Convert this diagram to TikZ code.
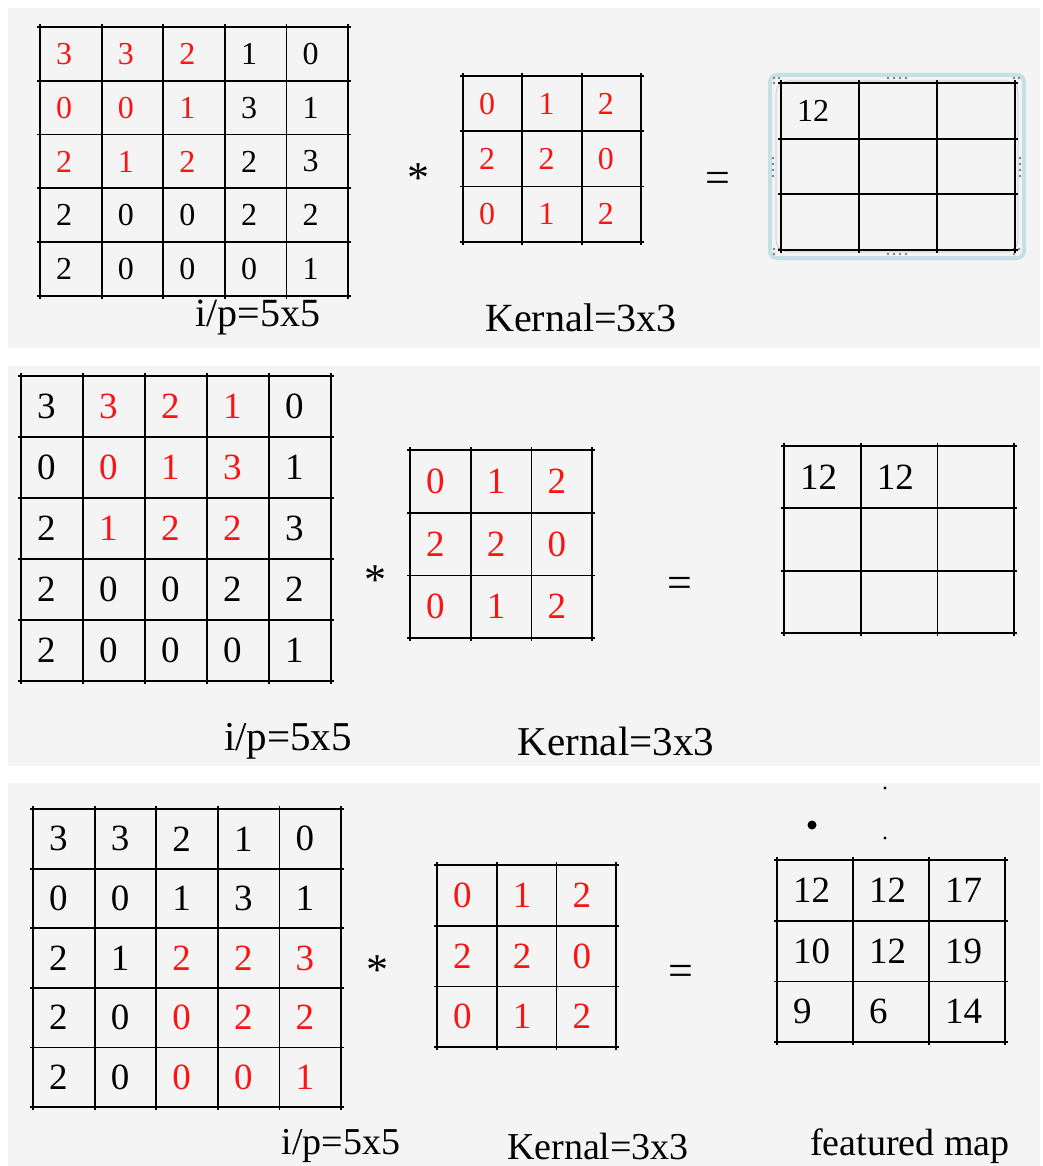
\documentclass[tikz,border=0pt]{standalone}
\usepackage{fontspec}
\setmainfont{Liberation Serif}
\definecolor{panelgray}{RGB}{244,244,244}
\definecolor{numred}{RGB}{250,20,20}
\definecolor{selblue}{RGB}{196,224,230}
\definecolor{handlegray}{RGB}{120,130,135}

\newcommand{\gridlines}[6]{%
  \foreach \i in {0,...,#5}
    \draw[gridline] ({#1+\i*#3},{#2-3}) -- ({#1+\i*#3},{#2+#6*#4+3});
  \foreach \j in {0,...,#6}
    \draw[gridline] ({#1-3},{#2+\j*#4}) -- ({#1+#5*#3+3},{#2+\j*#4});
}
\newcommand{\cellrow}[5]{%
  \foreach \v/\c [count=\k from 0] in {#5}
    \node[num,text=\c] (#4-\k) at ({#1+\k*#2+16},#3) {\v};
}

\begin{document}
\begin{tikzpicture}[x=1pt,y=-1pt,
    gridline/.style={black, line width=1.8pt},
    num/.style={anchor=west, inner sep=0pt},
    oplabel/.style={inner sep=0pt, font=\fontsize{44}{48}\selectfont},
    caption/.style={inner sep=0pt}]
  \useasboundingbox (0,0) rectangle (1042,1166);
  \fill[white] (0,0) rectangle (1042,1166);

  \fill[panelgray] (8,8) rectangle (1040,348);
  \fill[panelgray] (8,366) rectangle (1040,766);
  \fill[panelgray] (8,783) rectangle (1040,1166);

  % first step
  \begin{scope}[font=\fontsize{32}{36}\selectfont]
    \gridlines{40}{27}{61.6}{53.8}{5}{5}
    \cellrow{40}{61.6}{53.9}{ina1}{3/numred,3/numred,2/numred,1/black,0/black}
    \cellrow{40}{61.6}{107.7}{ina2}{0/numred,0/numred,1/numred,3/black,1/black}
    \cellrow{40}{61.6}{161.5}{ina3}{2/numred,1/numred,2/numred,2/black,3/black}
    \cellrow{40}{61.6}{215.3}{ina4}{2/black,0/black,0/black,2/black,2/black}
    \cellrow{40}{61.6}{269.1}{ina5}{2/black,0/black,0/black,0/black,1/black}

    \gridlines{463}{76}{59.3}{55.3}{3}{3}
    \cellrow{463}{59.3}{103.6}{kera1}{0/numred,1/numred,2/numred}
    \cellrow{463}{59.3}{158.9}{kera2}{2/numred,2/numred,0/numred}
    \cellrow{463}{59.3}{214.2}{kera3}{0/numred,1/numred,2/numred}

    \draw[selblue, line width=4pt, rounded corners=7pt] (770,75) rectangle (1024,258);
    \draw[handlegray!50, line width=0.6pt, rounded corners=12pt] (776,81) rectangle (1018,252);
    \foreach \d in {0,...,3} {
      \fill[handlegray] ({888+\d*6},78) circle (1.3);
      \fill[handlegray] ({888+\d*6},254) circle (1.3);
      \fill[handlegray] (773,{158+\d*6}) circle (1.3);
      \fill[handlegray] (1020,{158+\d*6}) circle (1.3);
    }
    \foreach \cx/\cy in {777/80,1017/80,777/251,1017/251} {
      \fill[handlegray] (\cx-3,\cy-2) circle (1.3);
      \fill[handlegray] (\cx+2,\cy-2) circle (1.3);
      \fill[handlegray] (\cx-3,\cy+3) circle (1.3);
    }
    \gridlines{781}{83}{78}{55.7}{3}{3}
    \node[num] (outa-0) at (797,111) {12};
  \end{scope}
  \node[oplabel] (stara) at (418,178) {*};
  \node[oplabel] (eqa) at (718,182) {=};
  \begin{scope}[font=\fontsize{40}{44}\selectfont]
    \node[caption] (ipa) at (258,318) {i/p=5x5};
    \node[caption] (kla) at (581,318) {Kernal=3x3};
  \end{scope}

  % second step
  \begin{scope}[font=\fontsize{37}{41}\selectfont]
    \gridlines{21}{376}{62}{61}{5}{5}
    \cellrow{21}{62}{406.5}{inb1}{3/black,3/numred,2/numred,1/numred,0/black}
    \cellrow{21}{62}{467.5}{inb2}{0/black,0/numred,1/numred,3/numred,1/black}
    \cellrow{21}{62}{528.5}{inb3}{2/black,1/numred,2/numred,2/numred,3/black}
    \cellrow{21}{62}{589.5}{inb4}{2/black,0/black,0/black,2/black,2/black}
    \cellrow{21}{62}{650.5}{inb5}{2/black,0/black,0/black,0/black,1/black}

    \gridlines{410}{450}{60.7}{62.7}{3}{3}
    \cellrow{410}{60.7}{481.3}{kerb1}{0/numred,1/numred,2/numred}
    \cellrow{410}{60.7}{544}{kerb2}{2/numred,2/numred,0/numred}
    \cellrow{410}{60.7}{606.7}{kerb3}{0/numred,1/numred,2/numred}

    \gridlines{784}{446}{76.7}{62.3}{3}{3}
    \cellrow{784}{76.7}{477.2}{outb1}{12/black,12/black}
  \end{scope}
  \node[oplabel] (starb) at (375,580) {*};
  \node[oplabel] (eqb) at (680,587) {=};
  \begin{scope}[font=\fontsize{41}{45}\selectfont]
    \node[caption] (ipb) at (288,741) {i/p=5x5};
    \node[caption] (klb) at (616,741) {Kernal=3x3};
  \end{scope}

  % last step
  \begin{scope}[font=\fontsize{37}{41}\selectfont]
    \gridlines{33}{809}{61.6}{59.6}{5}{5}
    \cellrow{33}{61.6}{838.8}{inc1}{3/black,3/black,2/black,1/black,0/black}
    \cellrow{33}{61.6}{898.4}{inc2}{0/black,0/black,1/black,3/black,1/black}
    \cellrow{33}{61.6}{958}{inc3}{2/black,1/black,2/numred,2/numred,3/numred}
    \cellrow{33}{61.6}{1017.6}{inc4}{2/black,0/black,0/numred,2/numred,2/numred}
    \cellrow{33}{61.6}{1077.2}{inc5}{2/black,0/black,0/numred,0/numred,1/numred}

    \gridlines{437}{865}{59.7}{60.7}{3}{3}
    \cellrow{437}{59.7}{895.4}{kerc1}{0/numred,1/numred,2/numred}
    \cellrow{437}{59.7}{956}{kerc2}{2/numred,2/numred,0/numred}
    \cellrow{437}{59.7}{1016.7}{kerc3}{0/numred,1/numred,2/numred}

    \gridlines{777}{860}{76}{60.7}{3}{3}
    \cellrow{777}{76}{890.4}{outc1}{12/black,12/black,17/black}
    \cellrow{777}{76}{951}{outc2}{10/black,12/black,19/black}
    \cellrow{777}{76}{1011.7}{outc3}{9/black,6/black,14/black}
  \end{scope}
  \node[oplabel] (starc) at (377,970) {*};
  \node[oplabel] (eqc) at (681,975) {=};
  \fill[black] (812,825) circle (4.5);
  \fill[black] (885,788) circle (1.6);
  \fill[black] (885,838) circle (1.6);
  \begin{scope}[font=\fontsize{38}{42}\selectfont]
    \node[caption] (ipc) at (341,1146) {i/p=5x5};
    \node[caption] (klc) at (598,1146) {Kernal=3x3};
    \node[caption] (fmc) at (910,1146) {featured map};
  \end{scope}
\end{tikzpicture}
\end{document}
